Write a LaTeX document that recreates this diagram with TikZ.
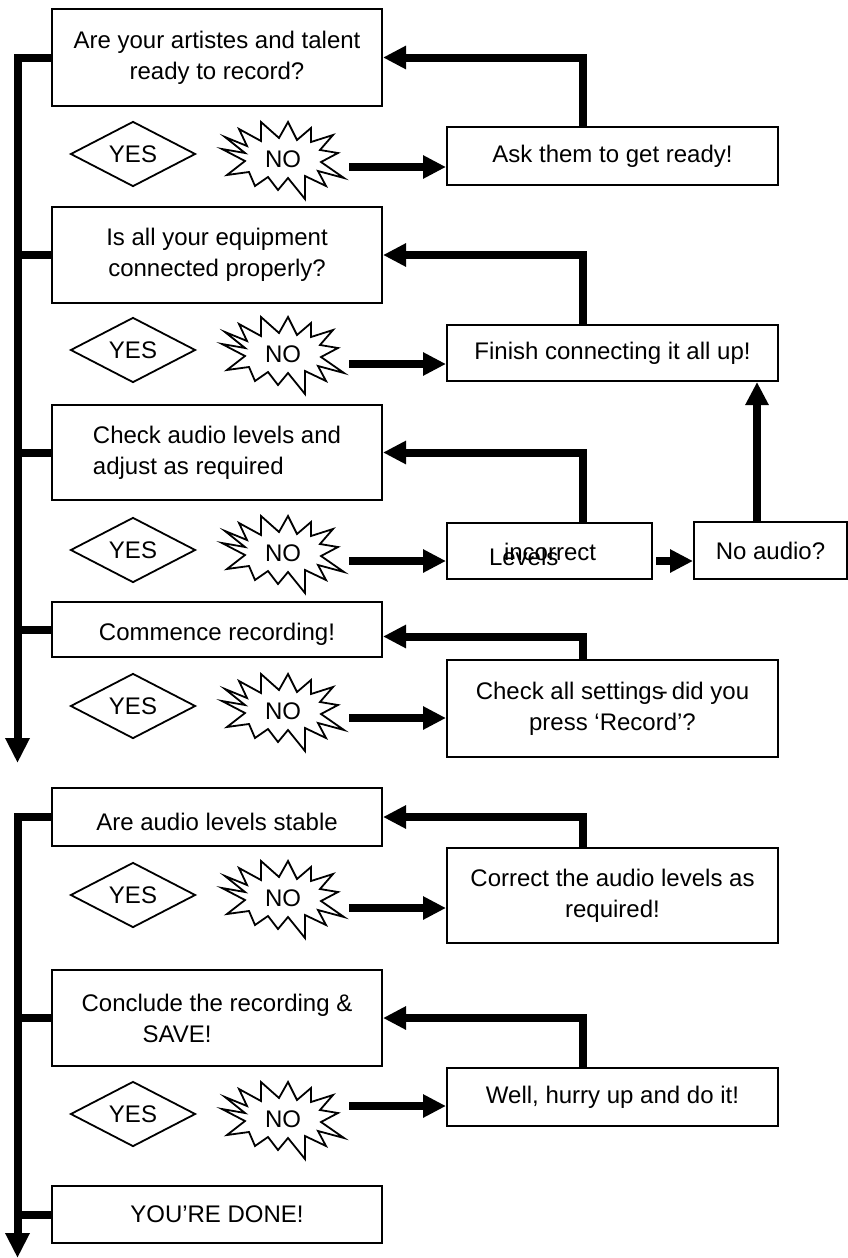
\documentclass[tikz,border=0pt]{standalone}
\usepackage{fontspec}
\setmainfont{Liberation Sans}
\usetikzlibrary{arrows.meta,shapes.geometric}

\tikzset{every picture/.style={line width=2pt}}

\begin{document}
\begin{tikzpicture}[x=1pt,y=1pt,yscale=-1,xscale=1,
  txt/.style={font=\fontsize{24}{31}\selectfont},
  qbox/.style={draw,txt,line width=2pt,minimum width=330pt,inner sep=0pt,align=center},
  fixbox/.style={draw,txt,line width=2pt,minimum width=331pt,inner sep=0pt,align=center},
  yesdia/.style={draw,txt,diamond,line width=1.8pt,minimum width=125pt,minimum height=58pt,inner sep=0pt},
  notxt/.style={txt,inner sep=0pt},
  fat/.style={line width=8pt},
  arr/.style={fat,-{Triangle[length=23pt,width=22pt]}},
  burst/.pic={
    \draw[line width=1.8pt,line join=miter] (-61,10) -- (-38,-2) -- (-56,-16) -- (-34,-13) -- (-28,-27)
      -- (-15,-18) -- (-5,-31) -- (5,-19) -- (22,-40) -- (22,-17) -- (43,-27) -- (35,-12)
      -- (61,-19) -- (38,-3) -- (55,6) -- (37,9) -- (50,24) -- (28,17) -- (28,31) -- (14,19)
      -- (5,37) -- (-4,21) -- (-22,37) -- (-22,18) -- (-44,30) -- (-36,13) -- (-58,22) -- (-38,6) -- cycle;
  }]
\useasboundingbox (0,0) rectangle (848,1258);

%Shape: Rectangle (questions)
\node[qbox,minimum height=97pt] (q1) at (217,57.5) {Are your artistes and talent\\ready to record?};
\node[qbox,minimum height=96pt] (q2) at (217,255) {Is all your equipment\\connected properly?};
\node[qbox,minimum height=95pt,align=left] (q3) at (217,452.5) {Check audio levels and\\adjust as required};
\node[qbox,minimum height=55pt] (q4) at (217,629.5) {\raisebox{-5pt}[\height][\depth]{Commence recording!}};
\node[qbox,minimum height=58pt] (q5) at (217,817) {\raisebox{-5pt}[\height][\depth]{Are audio levels stable}};
\node[qbox,minimum height=96pt,align=left] (q6) at (217,1018) {Conclude the recording \&\\\hspace*{61pt}SAVE!};
\node[qbox,minimum height=57pt] (q7) at (217,1214.5) {YOU’RE DONE!};

%Shape: Rectangle (fixes)
\node[fixbox,minimum height=58pt] (fix1) at (612.5,156) {Ask them to get ready!};
\node[fixbox,minimum height=56pt] (fix2) at (612.5,353) {Finish connecting it all up!};
\node[fixbox,minimum width=205pt,minimum height=56pt] (fix3) at (549.5,551) {};
\node[fixbox,minimum width=153pt,minimum height=57pt] (noaudio) at (770.5,550.5) {No audio?};
\node[fixbox,minimum height=97pt] (fix4) at (612.5,708.5) {Check all settings{\kern-4pt}-\,did you\\press ‘Record’?};
\node[fixbox,minimum height=95pt] (fix5) at (612.5,895.5) {Correct the audio levels as\\required!};
\node[fixbox,minimum height=58pt] (fix6) at (612.5,1097) {Well, hurry up and do it!};

% Text Node
\node[txt,anchor=base west,inner sep=0pt] (inc) at (503,560) {incorrect};
% Text Node
\node[txt,anchor=base west,inner sep=0pt] (lev) at (488,565) {Levels};

%Shape: Diamond / Starburst
\foreach \i/\y/\b in {1/154/159,2/350/354,3/550/553,4/706/711,5/895/898,6/1114/1119}{
  \node[yesdia] (yes\i) at (133,\y) {YES};
  \pic at (283,\b) {burst};
  \node[notxt] (no\i) at (283,\b) {NO};
}

%Straight Lines (no -> fix)
\foreach \i/\y in {1/167,2/364,3/561,4/718,5/908,6/1106}{
  \coordinate (s\i) at (349,\y);
  \draw[arr] (s\i) -- (s\i -| fix\i.west);
}

%Straight Lines (fix -> question)
\coordinate (ret) at (583,0);
\foreach \i/\d in {1/0,2/0,3/0,4/7,5/0,6/0}
  \draw[arr] (fix\i.north -| ret) |- ([yshift=\d pt]q\i.east);

%Straight Lines (levels -> no audio -> connect)
\coordinate (m) at (656,561);
\draw[arr] (m) -- (m -| noaudio.west);
\draw[arr] ([xshift=-13.5pt]noaudio.north) -- ([xshift=-13.5pt]noaudio.north |- fix2.south);

%Straight Lines (left spines)
\coordinate (end1) at (17.5,763);
\coordinate (end2) at (17.5,1258);
\draw[fat,-{Triangle[length=25pt,width=23pt]}] (q1.west) -| (end1);
\foreach \i in {2,3,4}
  \draw[fat] (q\i.west) -- (q\i.west -| end1);
\draw[fat,-{Triangle[length=25pt,width=23pt]}] (q5.west) -| (end2);
\foreach \i in {6,7}
  \draw[fat] (q\i.west) -- (q\i.west -| end2);

\end{tikzpicture}
\end{document}
